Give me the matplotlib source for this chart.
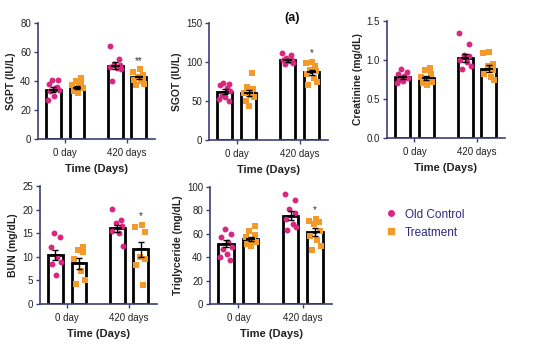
import numpy as np
import matplotlib
matplotlib.use("Agg")
import matplotlib.pyplot as plt
from matplotlib.lines import Line2D

groups = ["0 day", "420 days"]
series = ["Old Control", "Treatment"]

sgpt_pts = [[41, 41, 38, 35, 34, 33, 30, 27, 36], [42, 40, 38, 37, 36, 35, 33, 32],
            [64, 55, 52, 51, 50, 49, 48, 40], [48, 46, 44, 43, 42, 41, 40, 38, 37]]
sgpt_mean = [34, 35.5, 50.5, 42.5]
sgpt_sem = [1.6, 1.2, 2.3, 1.2]

sgot_pts = [[73, 72, 70, 67, 63, 58, 55, 52, 50], [86, 68, 65, 60, 58, 55, 50, 44],
            [111, 109, 105, 103, 102, 101, 99, 97], [100, 99, 95, 90, 88, 85, 80, 75, 70]]
sgot_mean = [62, 60, 102, 87]
sgot_sem = [3.0, 4.2, 1.7, 3.3]

creat_pts = [[0.88, 0.85, 0.82, 0.79, 0.77, 0.75, 0.73, 0.70], [0.90, 0.87, 0.82, 0.78, 0.75, 0.72, 0.70, 0.68],
             [1.35, 1.20, 1.07, 1.05, 1.00, 0.97, 0.92, 0.88], [1.10, 1.09, 0.95, 0.92, 0.87, 0.82, 0.78, 0.75]]
creat_mean = [0.78, 0.77, 1.03, 0.89]
creat_sem = [0.02, 0.03, 0.05, 0.05]

bun_pts = [[15, 14.2, 12, 10, 9, 8.5, 6.2], [12, 11.5, 11, 9.5, 7, 5, 4.3],
           [20.2, 17.8, 17.2, 16.5, 15.5, 15, 12.3], [16.8, 16.3, 15.2, 10, 9.5, 8.3, 4.0]]
bun_mean = [10.4, 8.6, 16.0, 11.6]
bun_sem = [1.1, 1.2, 0.8, 1.6]

tg_pts = [[64, 60, 57, 53, 49, 47, 43, 40, 38], [67, 62, 59, 57, 55, 53, 51, 50],
          [94, 89, 81, 78, 73, 68, 66, 63], [73, 71, 70, 68, 62, 58, 55, 50, 46]]
tg_mean = [51.5, 55.5, 75.5, 61.5]
tg_sem = [3.0, 1.8, 4.0, 3.3]

panels = [
    dict(label="SGPT (IU/L)", pts=sgpt_pts, mean=sgpt_mean, sem=sgpt_sem, ylim=80, yticks=[0, 20, 40, 60, 80], fmt="{:.0f}", sig="**"),
    dict(label="SGOT (IU/L)", pts=sgot_pts, mean=sgot_mean, sem=sgot_sem, ylim=150, yticks=[0, 50, 100, 150], fmt="{:.0f}", sig="*"),
    dict(label="Creatinine (mg/dL)", pts=creat_pts, mean=creat_mean, sem=creat_sem, ylim=1.5, yticks=[0, 0.5, 1.0, 1.5], fmt="{:.1f}", sig=""),
    dict(label="BUN (mg/dL)", pts=bun_pts, mean=bun_mean, sem=bun_sem, ylim=25, yticks=[0, 5, 10, 15, 20, 25], fmt="{:.0f}", sig="*"),
    dict(label="Triglyceride (mg/dL)", pts=tg_pts, mean=tg_mean, sem=tg_sem, ylim=100, yticks=[0, 20, 40, 60, 80, 100], fmt="{:.0f}", sig="*"),
]

W, H = 537, 344
# axes boxes in pixels: left, top, right, bottom
boxes = [(38, 23, 155, 139), (209, 23, 328, 140), (387, 21, 505, 138),
         (40, 186, 157, 304), (210, 187, 332, 304)]

pink = "#d9267f"
orange = "#f39a2a"
axcol = "#3b3f73"
txtcol = "#222222"

fig = plt.figure(figsize=(W / 100, H / 100), dpi=100)
plt.rcParams['font.family'] = ['Liberation Sans', 'DejaVu Sans']

offs = [-0.19, 0.19]
bw = 0.24
spread = np.array([-0.02, 0.07, -0.08, 0.03, 0.09, -0.05, 0.01, -0.09, 0.06])
for p, (l, t, r, b) in zip(panels, boxes):
    ax = fig.add_axes([l / W, 1 - b / H, (r - l) / W, (b - t) / H])
    for gi in range(2):
        for si in range(2):
            k = gi * 2 + si
            x = gi + offs[si]
            ax.bar(x, p["mean"][k], width=bw, color="white", edgecolor="black", linewidth=2.0, zorder=2)
            vals = np.array(p["pts"][k])
            n = len(vals)
            jit = np.roll(spread, k)[:n]
            ax.scatter(x + jit, vals, s=18, marker="o" if si == 0 else "s",
                       color=pink if si == 0 else orange, zorder=3, linewidths=0)
            ax.errorbar(x, p["mean"][k], yerr=p["sem"][k], color="black", capsize=2.5,
                        elinewidth=1.0, capthick=1.0, zorder=4)
            ax.plot([x - 0.055, x + 0.055], [p["mean"][k]] * 2, color="black", lw=1.4, zorder=4)
    if p["sig"]:
        top = max(p["pts"][3])
        ax.text(1 + offs[1], top + p["ylim"] * 0.03, p["sig"], ha="center", va="bottom",
                fontsize=7, color="#333333")
    ax.set_xlim(-0.44, 1.45)
    ax.set_ylim(0, p["ylim"])
    ax.set_yticks(p["yticks"])
    ax.set_yticklabels([p["fmt"].format(v) for v in p["yticks"]])
    ax.set_xticks([0, 1])
    ax.set_xticklabels(groups)
    for s in ["top", "right"]:
        ax.spines[s].set_visible(False)
    for s in ["left", "bottom"]:
        ax.spines[s].set_color(axcol)
        ax.spines[s].set_linewidth(1.2)
    ax.tick_params(axis="both", colors=axcol, labelcolor=txtcol, labelsize=7, length=3, width=1.0, pad=2)
    ax.tick_params(axis="x", pad=3.5)
    ax.set_ylabel(p["label"], fontsize=7.5, fontweight="bold", color=txtcol, labelpad=3)
    ax.set_xlabel("Time (Days)", fontsize=8, fontweight="bold", color=txtcol, labelpad=4)

fig.text(292 / W, 1 - 18 / H, "(a)", fontsize=9, fontweight="bold", ha="center", va="center", color="#111111")

handles = [Line2D([], [], marker="o", linestyle="", color=pink, markersize=4, label=series[0]),
           Line2D([], [], marker="s", linestyle="", color=orange, markersize=4, label=series[1])]
leg = fig.legend(handles=handles, loc="upper left", bbox_to_anchor=(373 / W, 1 - 198 / H),
                 frameon=False, fontsize=8.5, handletextpad=0.6, labelspacing=0.5, handlelength=1.2)
for t in leg.get_texts():
    t.set_color("#2b2b7e")

fig.savefig("out.png", dpi=100, facecolor="white")
